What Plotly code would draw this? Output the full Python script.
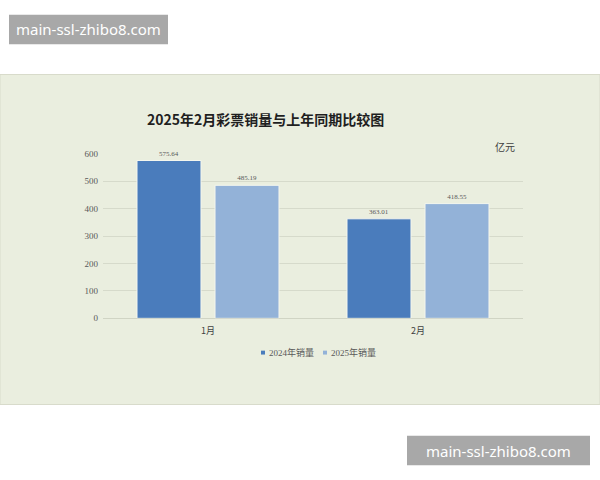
import plotly.graph_objects as go

# data
months = ["1月", "2月"]
sales_2024 = [575.64, 363.01]
sales_2025 = [485.19, 418.55]
series_names = ["2024年销量", "2025年销量"]
y_ticks = [0, 100, 200, 300, 400, 500, 600]

W, H = 600, 480
num_font = "Liberation Serif, Noto Sans CJK SC"
cjk_font = "Noto Sans CJK SC, Liberation Serif"
colors = ["#4a7cbc", "#93b2d8"]


def px(x):
    return x / W


def py(y):
    return 1 - y / H


fig = go.Figure()
for name, vals, color in zip(series_names, [sales_2024, sales_2025], colors):
    fig.add_trace(
        go.Bar(
            name=name,
            x=months,
            y=vals,
            marker=dict(color=color, line=dict(color="#f4f6ee", width=1)),
            text=[f"{v:.2f}" for v in vals],
            textposition="outside",
            textfont=dict(family=num_font, size=7, color="#595959"),
            cliponaxis=False,
            showlegend=False,
        )
    )

fig.update_layout(
    width=W,
    height=H,
    margin=dict(l=0, r=0, t=0, b=0),
    paper_bgcolor="white",
    plot_bgcolor="rgba(0,0,0,0)",
    barmode="group",
    bargap=0.257,
    bargroupgap=0.18,
    xaxis=dict(
        domain=[px(103), px(523)],
        showgrid=False,
        showline=False,
        ticks="",
        ticklabelstandoff=6,
        tickfont=dict(family=cjk_font, size=9, color="#404040"),
    ),
    yaxis=dict(
        domain=[py(320), py(152)],
        range=[0, 600],
        tickvals=y_ticks,
        gridcolor="#d6dacb",
        gridwidth=1,
        zeroline=True,
        zerolinecolor="#d0d4c4",
        zerolinewidth=1,
        showline=False,
        ticks="",
        ticklabelstandoff=4,
        tickfont=dict(family=num_font, size=9, color="#595959"),
    ),
)

# chart panel background
fig.add_shape(
    type="rect", xref="paper", yref="paper",
    x0=0, x1=1, y0=py(408), y1=py(71),
    fillcolor="#eaeedf", line=dict(color="#d8dbcb", width=1), layer="below",
)

fig.add_annotation(
    text="<b>2025年2月彩票销量与上年同期比较图</b>",
    xref="paper", yref="paper", x=px(265), y=py(116),
    xanchor="center", yanchor="middle",
    showarrow=False, font=dict(family=cjk_font, size=14, color="#1f1f1f"),
)
fig.add_annotation(
    text="亿元",
    xref="paper", yref="paper", x=px(505), y=py(144),
    xanchor="center", yanchor="middle",
    showarrow=False, font=dict(family=cjk_font, size=10, color="#404040"),
)

# compact legend like the original
legend_x = [261, 323]
for name, color, lx in zip(series_names, colors, legend_x):
    fig.add_shape(
        type="rect", xref="paper", yref="paper",
        x0=px(lx), x1=px(lx + 4), y0=py(357), y1=py(353),
        fillcolor=color, line=dict(width=0),
    )
    fig.add_annotation(
        text=name,
        xref="paper", yref="paper", x=px(lx + 6), y=py(355),
        xanchor="left", yanchor="middle",
        showarrow=False, font=dict(family=num_font, size=9, color="#595959"),
    )

# watermarks
for (x0, y0, x1, y1) in [(9, 10, 168, 40), (407, 440, 590, 470)]:
    fig.add_shape(
        type="rect", xref="paper", yref="paper",
        x0=px(x0), x1=px(x1), y0=py(y1), y1=py(y0),
        fillcolor="#a8a8a8", line=dict(width=0),
    )
    fig.add_annotation(
        text="main-ssl-zhibo8.com",
        xref="paper", yref="paper", x=px((x0 + x1) / 2), y=py((y0 + y1) / 2),
        xanchor="center", yanchor="middle",
        showarrow=False, font=dict(family="Noto Sans, DejaVu Sans", size=15, color="white"),
    )

fig.write_html(
    "out.html",
    config={"displayModeBar": False},
    post_script="document.body.style.margin='0';document.body.style.overflow='hidden';",
)
